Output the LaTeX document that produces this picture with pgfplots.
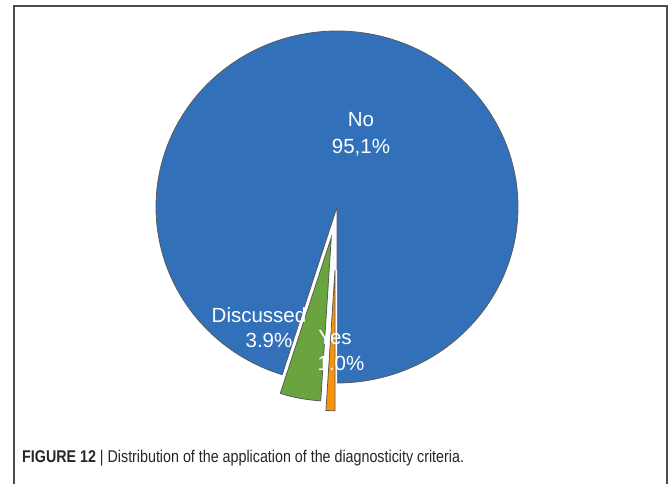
\documentclass[border=0pt]{standalone}
\usepackage{pgfplots}
\usepackage{pgfplotstable}
\pgfplotsset{compat=1.18}
\usepackage{fontspec}
\setmainfont{Liberation Sans}
\newfontfamily\capfont[FakeStretch=0.84]{Liberation Sans}
\definecolor{nocol}{RGB}{50,113,186}
\definecolor{discol}{RGB}{106,164,62}
\definecolor{yescol}{RGB}{248,148,10}
\definecolor{edgecol}{RGB}{90,90,90}

\pgfplotstableread{
label value
No 95.1
Discussed 3.9
Yes 1.0
}\piedata
\pgfplotstablegetelem{0}{value}\of\piedata \let\vNo\pgfplotsretval
\pgfplotstablegetelem{1}{value}\of\piedata \let\vDis\pgfplotsretval
\pgfplotstablegetelem{2}{value}\of\piedata \let\vYes\pgfplotsretval

% angles (math convention, y up); pie starts straight down, No runs anticlockwise
\pgfmathsetmacro\aYes{270-3.6*\vYes}
\pgfmathsetmacro\aDis{\aYes-3.6*\vDis}
\pgfmathsetmacro\aNoEnd{\aDis}
\pgfmathsetmacro\bYes{(270+\aYes)/2}
\pgfmathsetmacro\bDis{(\aYes+\aDis)/2}
% centre and radii
\def\cx{337}\def\cy{277}\def\rx{181}\def\ry{176}
% exploded centres
\pgfmathsetmacro\dx{\cx+31*cos(\bDis)}
\pgfmathsetmacro\dy{\cy+31*sin(\bDis)}
\pgfmathsetmacro\yx{\cx+63*cos(\bYes)}
\pgfmathsetmacro\yy{\cy+63*sin(\bYes)}

\begin{document}
\begin{tikzpicture}
\begin{axis}[
  width=670pt, height=484pt, scale only axis,
  xmin=0, xmax=670, ymin=0, ymax=484,
  hide axis, clip=false,
]
\coordinate (bl) at (axis cs:0,0);
\coordinate (tr) at (axis cs:670,484);
% frame
\draw[line width=1.4pt, black!70] (axis cs:14,0) -- (axis cs:14,478) -- (axis cs:667,478) -- (axis cs:667,0);
% No slice
\addplot[fill=nocol, draw=edgecol, line width=0.8pt, domain=-90:\aNoEnd, samples=240, variable=\t]
  ({\cx+\rx*cos(\t)},{\cy+\ry*sin(\t)}) -- (axis cs:\cx,\cy) -- cycle;
% Discussed slice (exploded)
\addplot[draw=white, line width=4pt, domain=\aDis:\aYes, samples=40, variable=\t]
  ({\dx+0.93*\rx*cos(\t)},{\dy+0.93*\ry*sin(\t)}) -- (axis cs:\dx,\dy) -- cycle;
\addplot[fill=discol, draw=edgecol, line width=0.8pt, domain=\aDis:\aYes, samples=40, variable=\t]
  ({\dx+0.93*\rx*cos(\t)},{\dy+0.93*\ry*sin(\t)}) -- (axis cs:\dx,\dy) -- cycle;
% Yes slice (exploded)
\addplot[draw=white, line width=4pt, domain=\aYes:270, samples=20, variable=\t]
  ({\yx+0.8*\rx*cos(\t)},{\yy+0.8*\ry*sin(\t)}) -- (axis cs:\yx,\yy) -- cycle;
\addplot[fill=yescol, draw=edgecol, line width=0.8pt, domain=\aYes:270, samples=20, variable=\t]
  ({\yx+0.8*\rx*cos(\t)},{\yy+0.8*\ry*sin(\t)}) -- (axis cs:\yx,\yy) -- cycle;
% labels
\tikzset{lbl/.style={white, font=\fontsize{20.5}{24}\selectfont}}
\node[lbl] at (axis cs:361,364) {No};
\node[lbl] at (axis cs:361,336) {95,1\%};
\node[lbl] at (axis cs:259,169) {Discussed};
\node[lbl] at (axis cs:269,144) {3.9\%};
\node[lbl] at (axis cs:335,146) {Yes};
\node[lbl] at (axis cs:341,121) {1.0\%};
% caption
\node[anchor=base west, inner sep=0pt, text=black!85, font=\capfont\fontsize{17}{20}\selectfont]
  at (axis cs:22,21) {\textbf{FIGURE 12} | Distribution of the application of the diagnosticity criteria.};
\end{axis}
\pgfresetboundingbox
\path (bl) rectangle (tr);
\end{tikzpicture}
\end{document}
